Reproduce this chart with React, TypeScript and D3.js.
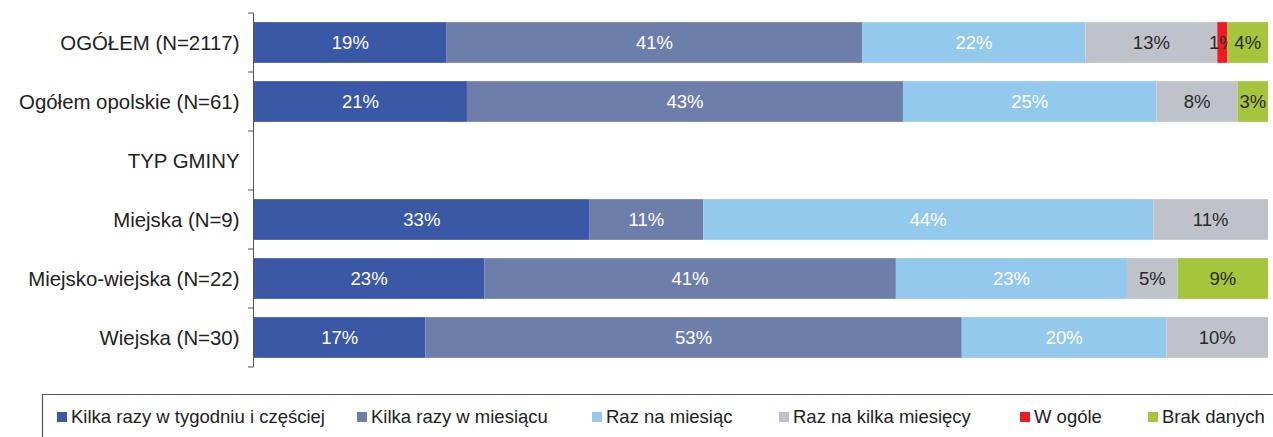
import React from "react";
import * as d3 from "d3";

const categories = [
  "OGÓŁEM (N=2117)",
  "Ogółem opolskie (N=61)",
  "TYP GMINY",
  "Miejska (N=9)",
  "Miejsko-wiejska (N=22)",
  "Wiejska (N=30)",
];
const seriesNames = [
  "Kilka razy w tygodniu i częściej",
  "Kilka razy w miesiącu",
  "Raz na miesiąc",
  "Raz na kilka miesięcy",
  "W ogóle",
  "Brak danych",
];
const seriesColors = ["#3A58A5", "#6E7EAB", "#93C9ED", "#C0C2C9", "#ED1C24", "#A5C53D"];
const labelColors = ["#ffffff", "#ffffff", "#ffffff", "#2a2a2a", "#2a2a2a", "#2a2a2a"];

// values per category, in series order
const s1 = [19, 21, 0, 33.1, 22.7, 16.9];
const s2 = [41, 43, 0, 11.2, 40.6, 52.9];
const s3 = [22, 25, 0, 44.4, 22.8, 20.2];
const s4 = [13, 8, 0, 11.3, 5, 10];
const s5 = [1, 0, 0, 0, 0, 0];
const s6 = [4, 3, 0, 0, 8.9, 0];
const seriesValues = [s1, s2, s3, s4, s5, s6];

const W = 1273;
const H = 437;

export default function App() {
  const x = d3.scaleLinear().domain([0, 100]).range([254, 1268]);
  const y = d3
    .scaleBand<string>()
    .domain(categories)
    .range([13, 367])
    .paddingInner(0.31)
    .paddingOuter(0.155);

  const step = y.step();
  const tickYs = d3.range(categories.length + 1).map((i) => y.range()[0] + i * step);

  const stacks = categories.map((c, ci) => {
    let acc = 0;
    return seriesValues.map((vals, si) => {
      const v = vals[ci];
      const seg = { si, x0: acc, x1: acc + v, v };
      acc += v;
      return seg;
    });
  });

  const legendX = [57, 357, 592, 779, 1020, 1148];

  return (
    <svg
      width={W}
      height={H}
      style={{ position: "absolute", left: 0, top: 0, fontFamily: "'Liberation Sans', Arial, sans-serif" }}
    >
      <rect width={W} height={H} fill="#ffffff" />
      {categories.map((c, ci) => (
        <g key={c}>
          {stacks[ci]
            .filter((s) => s.v > 0)
            .map((s) => (
              <g key={s.si}>
                <rect
                  x={x(s.x0)}
                  y={y(c)}
                  width={x(s.x1) - x(s.x0)}
                  height={y.bandwidth()}
                  fill={seriesColors[s.si]}
                />
                <text
                  x={(x(s.x0) + x(s.x1)) / 2}
                  y={(y(c) as number) + y.bandwidth() / 2}
                  dy="0.35em"
                  textAnchor="middle"
                  fontSize={18.5}
                  fill={labelColors[s.si]}
                >
                  {Math.round(s.v)}%
                </text>
              </g>
            ))}
          <text
            x={239.5}
            y={(y(c) as number) + y.bandwidth() / 2}
            dy="0.35em"
            textAnchor="end"
            fontSize={20.4}
            fill="#222222"
          >
            {c}
          </text>
        </g>
      ))}
      <line x1={253.5} x2={253.5} y1={tickYs[0]} y2={tickYs[tickYs.length - 1]} stroke="#555" strokeWidth={1} />
      {tickYs.map((t, i) => (
        <line key={i} x1={248} x2={253.5} y1={t} y2={t} stroke="#555" strokeWidth={1} />
      ))}
      {/* legend */}
      <path d={`M42.5,${H + 2} V394.5 H${W + 2}`} fill="none" stroke="#555" strokeWidth={1.2} />
      {seriesNames.map((n, i) => (
        <g key={n}>
          <rect x={legendX[i]} y={412} width={10} height={10} fill={seriesColors[i]} />
          <text x={legendX[i] + 14} y={417} dy="0.35em" fontSize={18.5} fill="#222222">
            {n}
          </text>
        </g>
      ))}
    </svg>
  );
}
